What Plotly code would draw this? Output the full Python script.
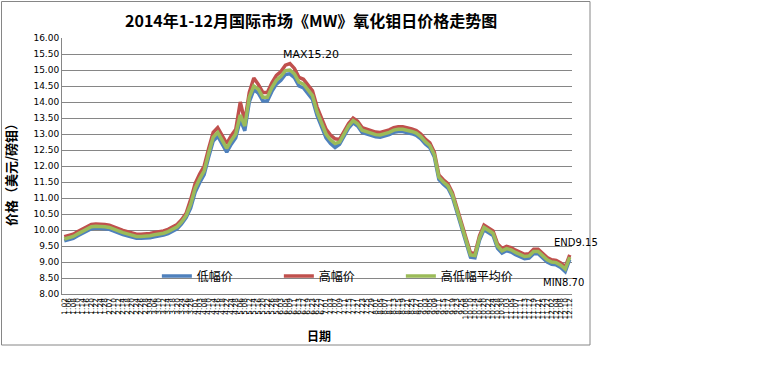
import plotly.graph_objects as go

dates = ["1.02","1.06","1.08","1.10","1.14","1.16","1.20","1.22","1.24","1.28",
         "2.07","2.10","2.12","2.14","2.18","2.20","2.24","2.26","2.28",
         "3.04","3.06","3.10","3.12","3.14","3.18","3.20","3.24","3.26","3.28",
         "4.01","4.03","4.08","4.10","4.14","4.16","4.18","4.22","4.24","4.28",
         "5.06","5.08","5.12","5.14","5.16","5.20","5.22","5.26","5.28",
         "6.03","6.05","6.09","6.11","6.13","6.17","6.19","6.23","6.25","6.27",
         "7.01","7.03","7.07","7.09","7.11","7.15","7.17","7.21","7.23","7.25","7.29",
         "8.01","8.05","8.07","8.11","8.13","8.15","8.19","8.21","8.25","8.27",
         "9.01","9.03","9.05","9.09","9.11","9.15","9.17","9.19","9.23","9.25",
         "10.08","10.10","10.14","10.16","10.20","10.22","10.24","10.28","10.30",
         "11.03","11.05","11.07","11.11","11.13","11.17","11.19","11.21","11.25","11.27",
         "12.02","12.04","12.08","12.10","12.12"]

low = [9.66,9.69,9.74,9.82,9.89,9.96,10.04,10.06,10.06,10.04,
       10.02,9.96,9.92,9.86,9.82,9.78,9.74,9.74,9.74,9.76,
       9.79,9.81,9.84,9.89,9.96,10.04,10.19,10.39,10.68,11.18,
       11.48,11.73,12.28,12.78,12.93,12.68,12.43,12.68,12.88,13.45,
       13.10,14.00,14.38,14.28,14.03,14.03,14.33,14.56,14.68,14.86,
       14.88,14.76,14.50,14.44,14.26,14.08,13.58,13.23,12.88,12.70,
       12.58,12.68,12.91,13.18,13.35,13.25,13.05,13.01,12.95,12.91,
       12.90,12.93,12.98,13.05,13.08,13.08,13.05,13.01,12.96,12.85,
       12.69,12.57,12.28,11.58,11.43,11.31,11.03,10.55,10.03,9.59,
       9.15,9.13,9.68,10.01,9.91,9.83,9.43,9.28,9.35,9.31,
       9.23,9.17,9.10,9.12,9.26,9.26,9.13,9.00,8.93,8.91,
       8.83,8.70,9.08]

high = [9.79,9.82,9.87,9.95,10.02,10.09,10.17,10.19,10.19,10.17,
        10.15,10.09,10.05,9.99,9.95,9.91,9.87,9.87,9.87,9.89,
        9.92,9.94,9.97,10.02,10.09,10.17,10.32,10.52,10.95,11.45,
        11.75,12.00,12.55,13.05,13.20,12.95,12.70,12.95,13.15,14.00,
        13.40,14.30,14.75,14.55,14.30,14.30,14.60,14.83,14.95,15.15,
        15.20,15.05,14.77,14.71,14.53,14.35,13.85,13.50,13.15,12.97,
        12.85,12.83,13.06,13.33,13.50,13.40,13.20,13.16,13.10,13.06,
        13.05,13.08,13.13,13.20,13.23,13.23,13.20,13.16,13.11,13.00,
        12.84,12.72,12.43,11.72,11.57,11.45,11.17,10.69,10.17,9.73,
        9.29,9.27,9.82,10.15,10.05,9.97,9.57,9.42,9.49,9.45,
        9.37,9.31,9.24,9.26,9.40,9.40,9.27,9.14,9.07,9.05,
        8.97,8.85,9.22]

avg = [9.72,9.75,9.80,9.88,9.95,10.02,10.10,10.12,10.12,10.10,
       10.08,10.02,9.98,9.92,9.88,9.84,9.80,9.80,9.80,9.82,
       9.85,9.87,9.90,9.95,10.02,10.10,10.25,10.45,10.80,11.30,
       11.60,11.85,12.40,12.90,13.05,12.80,12.55,12.80,13.00,13.60,
       13.25,14.15,14.50,14.40,14.15,14.15,14.45,14.68,14.80,14.98,
       15.00,14.88,14.62,14.56,14.38,14.20,13.70,13.35,13.00,12.82,
       12.70,12.75,12.98,13.25,13.42,13.32,13.12,13.08,13.02,12.98,
       12.97,13.00,13.05,13.12,13.15,13.15,13.12,13.08,13.03,12.92,
       12.76,12.64,12.35,11.65,11.50,11.38,11.10,10.62,10.10,9.66,
       9.22,9.20,9.75,10.08,9.98,9.90,9.50,9.35,9.42,9.38,
       9.30,9.24,9.17,9.19,9.33,9.33,9.20,9.07,9.00,8.98,
       8.90,8.78,9.15]

y_ticks = ["8.00","8.50","9.00","9.50","10.00","10.50","11.00","11.50","12.00",
           "12.50","13.00","13.50","14.00","14.50","15.00","15.50","16.00"]
y_vals = [8 + 0.5 * i for i in range(len(y_ticks))]

series_names = ["低幅价", "高幅价", "高低幅平均价"]
series_colors = ["#4F81BD", "#C0504D", "#9BBB59"]

CJK = "Noto Sans CJK SC"
LAT = "DejaVu Sans"

fig = go.Figure()
for name, vals, col in zip(series_names, [low, high, avg], series_colors):
    fig.add_trace(go.Scatter(x=dates, y=vals, name=name, mode="lines",
                             line=dict(color=col, width=3.5), hoverinfo="skip"))

fig.update_layout(
    width=769, height=382,
    margin=dict(l=62, r=197, t=38, b=88),
    paper_bgcolor="white", plot_bgcolor="white",
    showlegend=True,
    legend=dict(orientation="h", x=0.186, y=0.07, xanchor="left", yanchor="middle",
                bgcolor="rgba(0,0,0,0)", font=dict(size=12, family=CJK, color="black"),
                entrywidth=77, entrywidthmode="pixels", itemwidth=30),
)
fig.update_xaxes(type="category", tickmode="linear", tick0=0, dtick=1, automargin=False,
                 tickangle=-90, tickfont=dict(size=7.5, family=LAT, color="black"),
                 showgrid=False, showline=True, linecolor="#868686", linewidth=1,
                 ticks="", range=[-0.5, len(dates) - 0.5], zeroline=False)
fig.update_yaxes(range=[8, 16], tickmode="array", tickvals=y_vals, ticktext=y_ticks, automargin=False,
                 tickfont=dict(size=9, family=LAT, color="black"),
                 showgrid=True, gridcolor="#868686", gridwidth=1,
                 showline=True, linecolor="#868686", linewidth=1, ticks="", zeroline=False)

# outer chart frame
fig.add_shape(type="rect", xref="paper", yref="paper",
              x0=(1.5 - 62) / 510, x1=(590 - 62) / 510,
              y0=(294 - 345) / 256, y1=(294 - 1.5) / 256,
              line=dict(color="#868686", width=1), fillcolor="rgba(0,0,0,0)", layer="below")

fig.add_annotation(text="<b>2014年1-12月国际市场《MW》氧化钼日价格走势图</b>",
                   xref="paper", yref="paper", x=(311 - 62) / 510, y=(294 - 20) / 256,
                   xanchor="center", yanchor="middle",
                   showarrow=False, font=dict(size=16, family=CJK, color="black"))
fig.add_annotation(text="<b>价格（美元/磅钼）</b>", textangle=-90,
                   xref="paper", yref="paper", x=(10 - 62) / 510, y=(294 - 172) / 256,
                   xanchor="center", yanchor="middle",
                   showarrow=False, font=dict(size=13, family=CJK, color="black"))
fig.add_annotation(text="<b>日期</b>",
                   xref="paper", yref="paper", x=(319 - 62) / 510, y=(294 - 335) / 256,
                   xanchor="center", yanchor="middle",
                   showarrow=False, font=dict(size=12, family=CJK, color="black"))

imax = high.index(max(high))
imin = low.index(min(low))
iend = len(dates) - 1
fig.add_annotation(text="MAX%.2f" % high[imax], x=imax, y=high[imax], xref="x", yref="y",
                   showarrow=False, xshift=21, yshift=9, font=dict(size=11, family=LAT, color="black"))
fig.add_annotation(text="MIN%.2f" % low[imin], x=imin, y=low[imin], xref="x", yref="y",
                   showarrow=False, xshift=-2, yshift=-11, font=dict(size=10, family=LAT, color="black"))
fig.add_annotation(text="END%.2f" % avg[iend], x=iend, y=avg[iend], xref="x", yref="y",
                   showarrow=False, xshift=6, yshift=15, font=dict(size=10, family=LAT, color="black"))

fig.write_html("out.html", config={"displayModeBar": False},
               post_script="document.body.style.margin='0';")
